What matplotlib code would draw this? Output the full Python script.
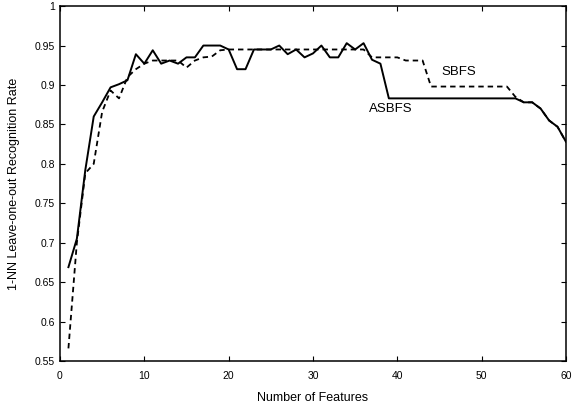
import numpy as np
from matplotlib import pyplot as plt

plt.rcParams['font.family'] = ['Liberation Sans', 'DejaVu Sans']

# number of features 1..60
features = list(range(1, 61))

asbfs = [0.669, 0.705, 0.792, 0.860, 0.878, 0.897, 0.901, 0.906, 0.939, 0.927,
         0.944, 0.927, 0.931, 0.927, 0.935, 0.935, 0.950, 0.950, 0.950, 0.945,
         0.920, 0.920, 0.945, 0.945, 0.945, 0.950, 0.939, 0.945, 0.935, 0.940,
         0.950, 0.935, 0.935, 0.953, 0.945, 0.953, 0.932, 0.927, 0.883, 0.883,
         0.883, 0.883, 0.883, 0.883, 0.883, 0.883, 0.883, 0.883, 0.883, 0.883,
         0.883, 0.883, 0.883, 0.883, 0.878, 0.878, 0.870, 0.855, 0.847, 0.828]

sbfs = [0.566, 0.700, 0.788, 0.800, 0.866, 0.893, 0.883, 0.910, 0.920, 0.927,
        0.931, 0.931, 0.931, 0.931, 0.922, 0.931, 0.935, 0.936, 0.944, 0.945,
        0.945, 0.945, 0.945, 0.945, 0.945, 0.945, 0.945, 0.945, 0.945, 0.945,
        0.945, 0.945, 0.945, 0.945, 0.945, 0.945, 0.935, 0.935, 0.935, 0.935,
        0.931, 0.931, 0.931, 0.898, 0.898, 0.898, 0.898, 0.898, 0.898, 0.898,
        0.898, 0.898, 0.898, 0.885, 0.878, 0.878, 0.870, 0.855, 0.847, 0.828]

yticks = [0.55, 0.6, 0.65, 0.7, 0.75, 0.8, 0.85, 0.9, 0.95, 1]
ylabels = ["0.55", "0.6", "0.65", "0.7", "0.75", "0.8", "0.85", "0.9", "0.95", "1"]

fig = plt.figure(figsize=(5.73, 4.07), dpi=100)
ax = fig.add_axes([0.1047, 0.113, 0.883, 0.872])

ax.plot(features, sbfs, color="black", lw=1.3, linestyle=(0, (3, 2.2)))
ax.plot(features, asbfs, color="black", lw=1.4)

ax.text(45.2, 0.916, "SBFS", fontsize=9.5, va="center")
ax.text(36.6, 0.870, "ASBFS", fontsize=9.5, va="center")

ax.set_xlim(0, 60)
ax.set_ylim(0.55, 1)
ax.set_xticks(range(0, 61, 10))
ax.set_yticks(yticks)
ax.set_yticklabels(ylabels)
ax.tick_params(direction="in", top=True, right=True, labelsize=7.5, length=3.5, width=0.8)
ax.tick_params(axis="x", pad=7)
for s in ax.spines.values():
    s.set_linewidth(1.1)

ax.set_xlabel("Number of Features", fontsize=9, labelpad=8)
ax.set_ylabel("1-NN Leave-one-out Recognition Rate", fontsize=9, labelpad=11)

fig.savefig("out.png", dpi=100)
